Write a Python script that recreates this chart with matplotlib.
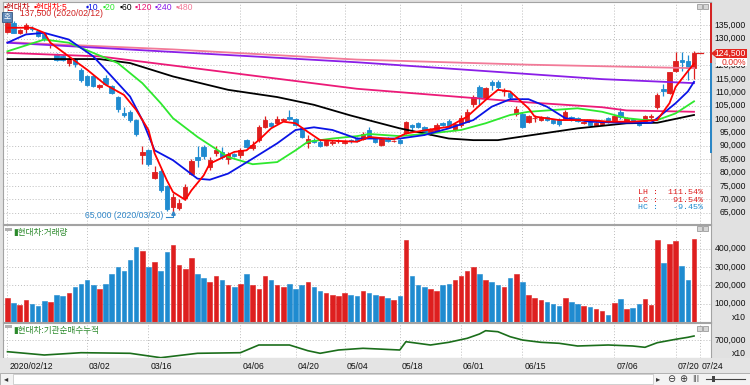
import matplotlib
matplotlib.use('Agg')
import matplotlib.pyplot as plt
import matplotlib.transforms as mtrans
from matplotlib.patches import Rectangle, Polygon
import numpy as np

plt.rcParams['font.family'] = ['Liberation Sans', 'Noto Sans CJK KR', 'DejaVu Sans']

# ---------------- data ----------------
opens = [132500,136000,132300,133500,134000,133000,131900,128000,124000,123400,121000,122400,118400,
         115900,115900,111800,115500,112400,108100,102400,102700,99600,86500,88300,78100,80600,74800,67000,66800,70550,79300,
         85800,89600,82100,87300,87700,85200,86800,86500,92100,89300,92100,97100,98600,98400,99800,100600,99900,96500,90900,92000,
         91500,90200,91000,91600,91000,92000,92700,92700,95900,92400,90200,92700,91800,92000,
         94900,
         97700,98400,96900,94600,95600,98400,99400,95900,97700,99000,105600,112100,107800,114000,114000,110300,109900,101900,101900,
         99000,100200,99600,100900,99600,99600,99900,100600,100300,98400,99000,97700,
         98100,100300,99600,102800,99400,99900,99000,99400,100600,104400,111100,109600,117800,121900,121800,119000]
highs = [137500,136500,133800,135700,134600,133300,132200,129000,124500,123800,123000,122800,118900,
         116500,116300,113200,116300,112800,108600,104600,103500,100000,89800,88800,82500,81200,75500,72200,70200,75800,85200,
         89800,90200,85800,90000,89400,87700,87300,89000,92500,91900,97600,101000,99000,101200,100500,103400,100500,97000,94000,92800,
         92000,92200,92300,92400,92000,92500,93200,95000,97000,93300,92800,93200,92300,92400,
         99300,
         98300,99000,97300,96500,98500,99000,100000,98500,101500,103800,109000,112800,112000,114700,114700,111500,110500,104900,102500,
         101500,101500,101000,101300,100000,100300,103200,101000,100700,99400,99400,98900,
         99300,100700,101500,104100,100700,100300,99300,101500,102000,109600,113200,117700,124900,124900,124000,125300]
lows = [132000,132000,131800,132000,133000,130500,129000,126500,121700,121500,119800,119500,114000,
        112200,111800,111300,112800,109500,102500,100800,99000,93600,83100,82500,77500,72800,65500,65000,66000,69800,79000,
        82100,85000,81000,86000,85000,83300,85800,85600,89000,88600,91500,96500,97000,98000,99300,99600,97300,92800,89000,91000,
        89500,89800,90200,91000,90700,91200,91500,92300,93000,91200,89800,91500,91300,90700,
        94500,
        96000,96800,94200,94200,95200,97300,96500,95500,97000,98800,104600,105300,107300,110900,110900,108600,107500,101100,96500,
        98500,99000,99200,99300,98000,97400,99600,99200,99000,98000,97300,97400,
        97800,98600,99300,100000,99000,98700,97300,99000,99600,103900,108600,109300,117400,117800,114700,115000]
closes = [136000,132300,133200,135300,133600,131000,129900,128200,122200,121900,122400,120700,114400,
          112800,112200,112800,113200,109900,103600,101500,99600,94400,87500,83100,80200,73300,66400,70800,68550,74560,84200,
          84800,86100,84800,88300,85800,86800,86100,88600,89600,90200,97100,99600,97400,99900,100000,99900,97700,93100,92400,91400,
          89900,91700,91500,91900,91500,91600,91850,94400,93400,91500,92400,91900,91900,91100,
          99000,
          96900,97100,94600,96100,97700,97700,96900,98100,100300,102500,108400,108400,111500,112800,111900,110900,108100,103600,96900,
          101100,100400,100600,99600,98400,98100,102800,99600,99400,99000,97700,98600,
          99000,99000,101100,100900,100300,99000,97700,101100,101100,109000,110300,117400,121500,121200,119000,124500]
volumes = [130000,105000,95000,120000,100000,90000,115000,110000,150000,140000,160000,190000,210000,
           230000,200000,180000,210000,260000,300000,280000,340000,410000,390000,300000,330000,280000,380000,420000,310000,290000,350000,
           260000,240000,220000,250000,230000,200000,190000,210000,260000,200000,180000,250000,230000,200000,190000,210000,180000,200000,220000,190000,
           170000,160000,150000,140000,160000,150000,140000,170000,160000,150000,140000,130000,120000,140000,
           450000,
           250000,200000,190000,180000,170000,200000,210000,230000,250000,280000,300000,260000,230000,220000,200000,190000,240000,260000,220000,
           150000,130000,120000,110000,100000,90000,130000,110000,100000,90000,80000,70000,
           58000,40000,104000,125000,69000,76000,96000,125000,93000,446000,322000,424000,442000,305000,229000,451000]

# moving averages (bar index, value)
ma5_idx = [0,4,6,7,10,13,16,19,21,23,24,26,27,29,30,32,33,37,39,41,43,45,47,49,51,57,59,63,65,69,72,75,78,80,82,85,86,90,95,98,102,106,108,109,111,112]
ma5_val = [134100,134100,132200,128500,123400,118400,112800,109000,103400,95900,87200,77100,72700,69800,73300,78900,83300,87700,88300,92100,96500,99000,98400,95200,92100,91500,93300,92400,94600,96100,97100,100900,107100,110900,110300,104000,100900,99600,99600,99000,99000,99600,105900,112000,117900,120700]
ma10_idx = [0,3,6,10,14,17,20,22,24,27,31,33,36,40,44,47,50,53,57,64,68,72,76,79,82,85,88,91,95,100,105,106,109,111,112]
ma10_val = [128500,131600,132200,129700,123400,115900,108400,99600,88300,84600,77700,77300,79600,85200,90900,95900,96900,95900,92700,92700,94000,96500,99600,104600,107400,107400,104600,100300,99000,98600,98600,100300,105900,110300,113900]
ma20_idx = [0,6,10,14,18,22,25,27,31,36,40,44,47,49,53,57,59,64,69,74,78,82,85,93,97,101,104,106,109,112]
ma20_val = [125300,129700,128500,124700,120900,113400,105900,100300,93300,85800,83100,83900,88300,91500,92700,93600,94400,93600,94600,95900,98400,101500,102700,104000,102700,100300,99600,99600,102100,106600]
ma60_idx = [0,15,20,27,36,44,50,56,64,72,76,80,85,93,101,106,112]
ma60_val = [122400,122400,120900,115900,110900,108200,105300,101300,96500,92700,92100,92100,93800,96500,98400,98600,101500]
ma120_idx = [0,15,28,57,85,97,101,112]
ma120_val = [124700,123400,119700,111300,106200,104400,103200,102700]
ma240_idx = [0,40,57,85,97,112]
ma240_val = [128500,123400,121200,116800,114900,113400]
ma480_idx = [0,27,57,85,112]
ma480_val = [128700,126000,122200,120300,119000]

inst_idx = [0,6,12,20,25,31,38,41,46,49,51,54,58,64,65,69,72,75,77,78,80,82,84,87,90,93,98,102,104,106,109,111,112]
inst_val = [583000,550000,573000,567000,523000,567000,573000,650000,650000,593000,567000,600000,617000,600000,683000,650000,677000,717000,760000,793000,783000,733000,700000,677000,667000,640000,650000,640000,627000,673000,707000,727000,740000]

tick_idx = [0, 13, 23, 38, 47, 55, 64, 74, 84, 99, 109, 113]
tick_lab = ['2020/02/12', '03/02', '03/16', '04/06', '04/20', '05/04', '05/18', '06/01', '06/15', '07/06', '07/20', '07/24']
price_ticks = list(range(65000, 135001, 5000))
vol_ticks = [100000, 200000, 300000, 400000]
inst_ticks = [700000]
high_label = '137,500 (2020/02/12)'
low_label = '65,000 (2020/03/20)'
stat_lines = [('LH :  111.54%', 'r'), ('LC :   91.54%', 'r'), ('HC :   -9.45%', 'b')]

# ---------------- styling ----------------
W, H = 750, 385
RED = '#de1f1f'
BLUE = '#1f8bd0'
GRID = '#bdbdbd'
XMIN, XMAX = -0.73, 114.77

fig = plt.figure(figsize=(W / 100, H / 100), dpi=100)
fig.patch.set_facecolor('#e1e1e1')


def fpx(px, py):
    return px / W, 1 - py / H


def ftext(px, py, s, **kw):
    x, y = fpx(px, py)
    return fig.text(x, y, s, **kw)


def frect(px, py, w, h, **kw):
    x, y = fpx(px, py + h)
    r = Rectangle((x, y), w / W, h / H, transform=fig.transFigure, **kw)
    fig.patches.append(r)
    return r


def panel(x0, y0, x1, y1):
    a = fig.add_axes([x0 / W, 1 - y1 / H, (x1 - x0) / W, (y1 - y0) / H])
    a.set_facecolor('white')
    for s in a.spines.values():
        s.set_color('#a3a3a3')
        s.set_linewidth(0.8)
    a.set_xticks([])
    a.set_yticks([])
    a.set_xlim(XMIN, XMAX)
    return a


ax = panel(3, 2, 711, 224)
axv = panel(3, 225, 711, 322)
axi = panel(3, 323, 711, 358)

ax.set_ylim(60761, 143723)
axv.set_ylim(0, 529200)
axi.set_ylim(520000, 870000)

dot = (0, (1, 2))
for a in (ax, axv, axi):
    for t in tick_idx:
        a.axvline(t, color=GRID, lw=0.7, ls=dot, zorder=0)
for p in price_ticks:
    ax.axhline(p, color=GRID, lw=0.7, ls=dot, zorder=0)
for v in vol_ticks:
    axv.axhline(v, color=GRID, lw=0.7, ls=dot, zorder=0)
for v in inst_ticks:
    axi.axhline(v, color=GRID, lw=0.7, ls=dot, zorder=0)

# candles
o = np.array(opens); c = np.array(closes); h = np.array(highs); l = np.array(lows)
idx = np.arange(len(c))
up = c >= o
col = np.where(up, RED, BLUE)
ax.vlines(idx, l, h, colors=col, lw=0.9, zorder=2)
ax.bar(idx, np.abs(c - o), bottom=np.minimum(o, c), width=0.72, color=col,
       edgecolor=col, linewidth=0.6, zorder=3)

# moving averages
ma_specs = [(ma480_idx, ma480_val, '#f27a98'), (ma240_idx, ma240_val, '#8a1ee8'),
            (ma120_idx, ma120_val, '#ec1a78'), (ma60_idx, ma60_val, '#000000'),
            (ma20_idx, ma20_val, '#2ee82e'), (ma10_idx, ma10_val, '#0a14e6'),
            (ma5_idx, ma5_val, '#ff0000')]
for xi, yv, cc in ma_specs:
    ax.plot(xi, yv, color=cc, lw=1.3, zorder=4, solid_joinstyle='round')

# volume
axv.bar(idx, volumes, width=0.74, color=col, edgecolor=col, linewidth=0.4, zorder=2)

# institutional cumulative
axi.plot(inst_idx, inst_val, color='#1b6e1b', lw=1.2, zorder=3)

# ---------------- right axis labels ----------------
lab_kw = dict(fontsize=6.2, ha='right', va='center', color='#111111')
tr = mtrans.blended_transform_factory(fig.transFigure, ax.transData)
for p in price_ticks:
    ax.text(746 / W, p, f'{p:,}', transform=tr, clip_on=False, **lab_kw)
trv = mtrans.blended_transform_factory(fig.transFigure, axv.transData)
for v in vol_ticks:
    axv.text(746 / W, v, f'{v:,}', transform=trv, clip_on=False, **lab_kw)
ftext(746, 318, 'x10', **lab_kw)
tri = mtrans.blended_transform_factory(fig.transFigure, axi.transData)
for v in inst_ticks:
    axi.text(746 / W, v, f'{v:,}', transform=tri, clip_on=False, **lab_kw)
ftext(746, 353, 'x10', **lab_kw)

# x labels
frect(0, 358, W, 15, facecolor='#e4e4e4', edgecolor='none')
trx = mtrans.blended_transform_factory(ax.transData, fig.transFigure)
for t, s in zip(tick_idx, tick_lab):
    fig.text(t + 0.3, 1 - 366.5 / H, s, transform=trx, fontsize=6.2, ha='left',
             va='center', color='#111111')

# scrollbar row
frect(0, 373, W, 12, facecolor='#f3f3f3', edgecolor='#a8a8a8', lw=0.6)
frect(13, 374, 640, 10, facecolor='white', edgecolor='#c0c0c0', lw=0.5)
ftext(6, 379, '◂', fontsize=6, ha='center', va='center', color='#333333', family='DejaVu Sans')
ftext(658, 379, '▸', fontsize=6, ha='center', va='center', color='#333333', family='DejaVu Sans')
ftext(671, 379, '⊖', fontsize=7, ha='center', va='center', color='#333333', family='DejaVu Sans')
ftext(683, 379, '⊕', fontsize=7, ha='center', va='center', color='#333333', family='DejaVu Sans')
ftext(696, 379, '|||', fontsize=5, ha='center', va='center', color='#333333', family='DejaVu Sans')
fig.add_artist(plt.Line2D([706 / W, 745 / W], [1 - 379 / H] * 2, color='#444444', lw=0.8))
frect(712, 376, 3, 6, facecolor='#444444', edgecolor='none')

# ---------------- annotations in main panel ----------------
legend_items = [('▪현대차', '#c00000', 4), ('▪현대차:5', '#ff0000', 34), ('▪10', '#0a14e6', 86),
                ('▪20', '#2ee82e', 103), ('▪60', '#000000', 120), ('▪120', '#ec1a78', 135),
                ('▪240', '#8a1ee8', 155), ('▪480', '#f27a98', 176)]
for s, cc, x in legend_items:
    ftext(x, 7.5, s, fontsize=6.2, color=cc, ha='left', va='center')
ftext(20, 13.5, high_label, fontsize=6.2, color='#d02020', ha='left', va='center')

frect(2, 12, 10, 10, facecolor='#5d87b8', edgecolor='#35577f', lw=0.6)
ftext(7, 17, '호', fontsize=5.5, color='white', ha='center', va='center')

# low marker
imin = int(np.argmin(l))
ax.plot([imin - 1.2, imin, imin], [l[imin] - 1500, l[imin] - 1500, l[imin] - 300],
        color='#2f86c8', lw=0.8, zorder=5, clip_on=False)
ax.plot([imin], [l[imin] - 300], marker='^', ms=2.5, color='#2f86c8', zorder=5, clip_on=False)
ax.text(imin - 1.5, l[imin] - 1100, low_label, fontsize=6.2, color='#2f86c8',
        ha='right', va='center', zorder=5)

# LH / LC / HC
for k, (s, cc) in enumerate(stat_lines):
    ftext(703, 193 + 7.5 * k, s, fontsize=6, color=RED if cc == 'r' else BLUE,
          ha='right', va='center', family=['Liberation Mono', 'DejaVu Sans Mono'])

# current price tag
last = closes[-1]
yfig = ax.transData.transform((0, last))[1] / fig.dpi / (H / 100)
ypx = (1 - yfig) * H
ax.plot([len(c) - 0.6, len(c) + 0.4], [last, last], color=RED, lw=0.9, clip_on=False, zorder=5)
frect(716, ypx - 4.5, 31, 9, facecolor='#e3261f', edgecolor='none')
tri_pts = [fpx(711, ypx), fpx(716.5, ypx - 4.5), fpx(716.5, ypx + 4.5)]
fig.patches.append(Polygon(tri_pts, closed=True, transform=fig.transFigure,
                           facecolor='#e3261f', edgecolor='none'))
ftext(746, ypx, f'{last:,}', fontsize=6.2, color='white', ha='right', va='center')
frect(716, ypx + 5, 31, 8, facecolor='white', edgecolor='none')
ftext(746, ypx + 9, '0.00%', fontsize=6.2, color='#e3261f', ha='right', va='center')

# range bar at panel edge
frect(710, 3, 2, 60, facecolor='#d42424', edgecolor='none')
frect(710, 63, 2, 90, facecolor='#2a86c6', edgecolor='none')

# small panel buttons
for yy in (4, 226, 326):
    for xx in (697, 703):
        frect(xx, yy, 4.5, 4.5, facecolor='#d6d6d6', edgecolor='#8c8c8c', lw=0.5)

# panel titles
frect(5, 228, 7, 2.5, facecolor='#b0b0b0', edgecolor='none')
ftext(13, 232, '▮현대차:거래량', fontsize=6.2, color='#2c8a2c', ha='left', va='center')
frect(5, 325, 7, 2.5, facecolor='#b0b0b0', edgecolor='none')
ftext(13, 330.5, '▮현대차:기관순매수누적', fontsize=6.2, color='#2c8a2c', ha='left', va='center')

fig.savefig('out.png', dpi=100, facecolor=fig.get_facecolor())
